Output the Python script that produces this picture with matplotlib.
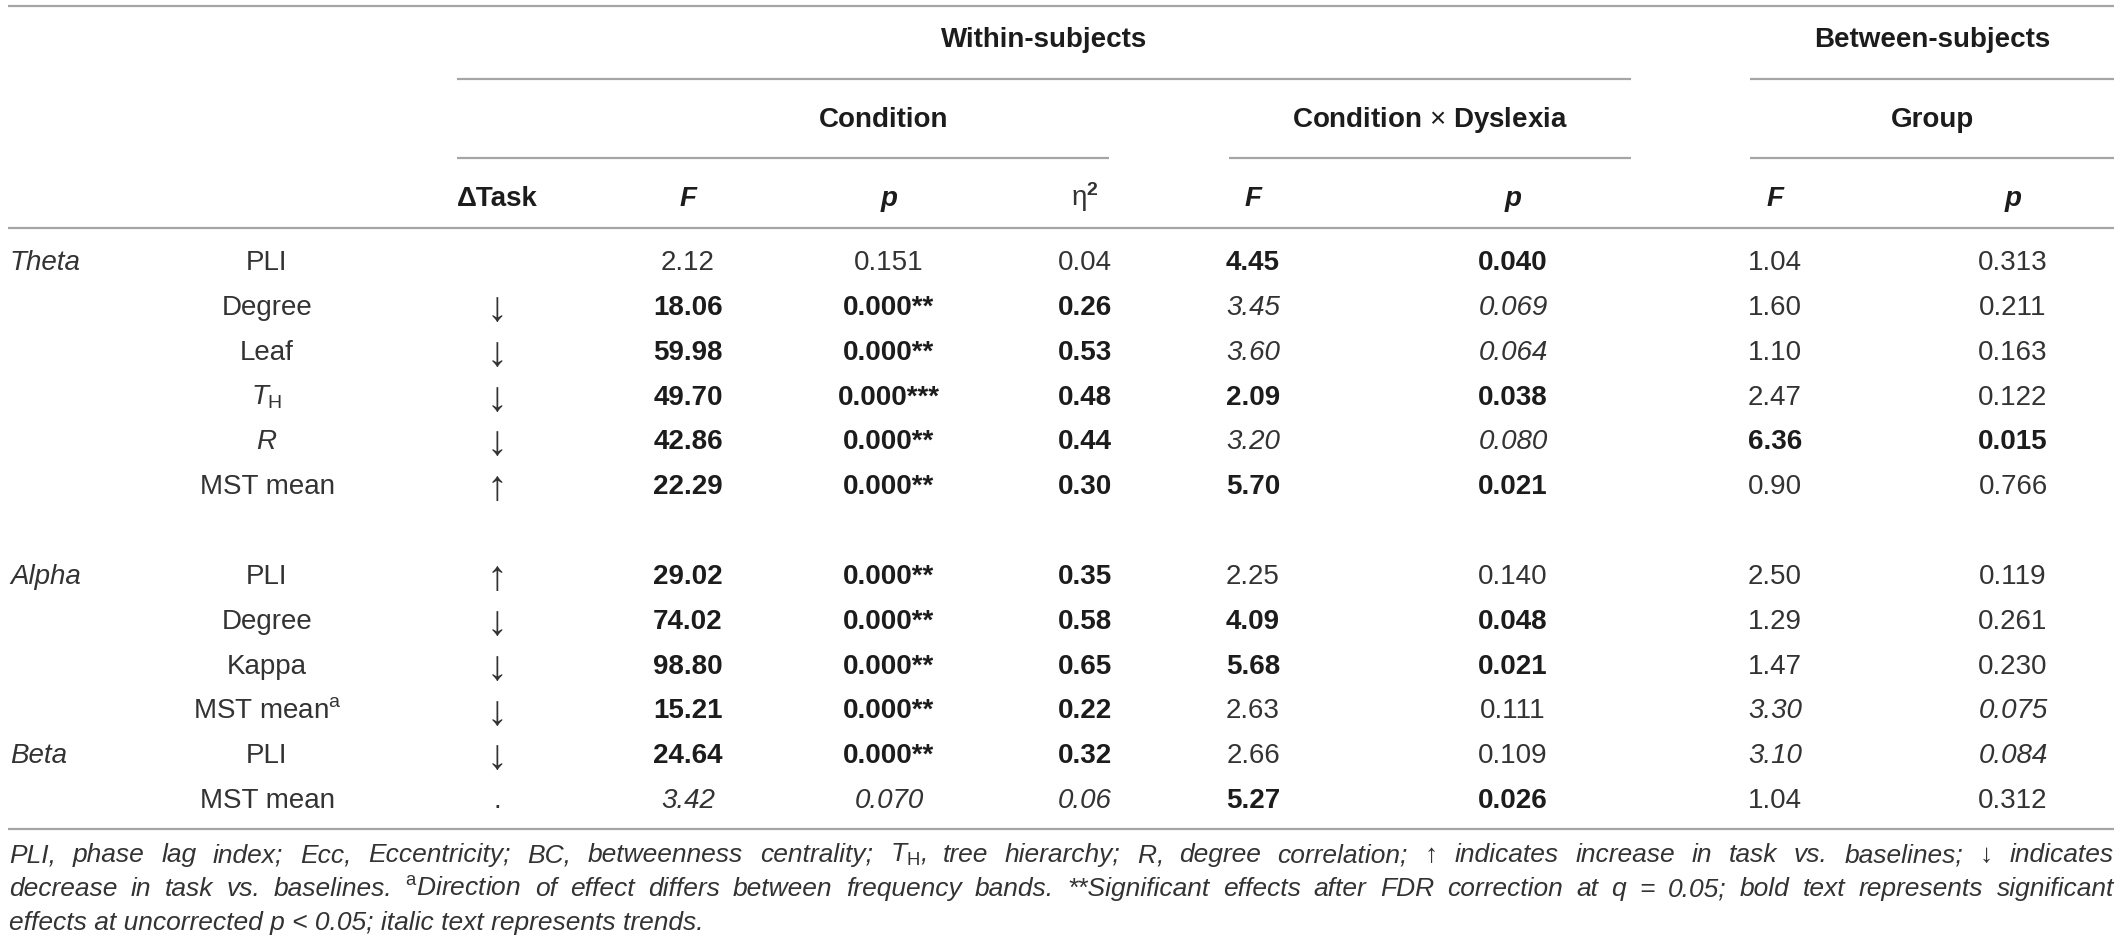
import matplotlib
matplotlib.use('Agg')
import matplotlib.pyplot as plt

# table content
bands = ['Theta', '', '', '', '', '', 'Alpha', '', '', '', 'Beta', '']
measures = ['PLI', 'Degree', 'Leaf', r'$T_{\mathrm{H}}$', r'$R$', 'MST mean',
            'PLI', 'Degree', 'Kappa', r'MST mean$^{\mathrm{a}}$', 'PLI', 'MST mean']
task_dir = ['', '↓', '↓', '↓', '↓', '↑', '↑', '↓', '↓', '↓', '↓', '.']
cond_F = ['2.12', '18.06', '59.98', '49.70', '42.86', '22.29',
          '29.02', '74.02', '98.80', '15.21', '24.64', '3.42']
cond_p = ['0.151', '0.000**', '0.000**', '0.000***', '0.000**', '0.000**',
          '0.000**', '0.000**', '0.000**', '0.000**', '0.000**', '0.070']
cond_eta = ['0.04', '0.26', '0.53', '0.48', '0.44', '0.30',
            '0.35', '0.58', '0.65', '0.22', '0.32', '0.06']
cxd_F = ['4.45', '3.45', '3.60', '2.09', '3.20', '5.70',
         '2.25', '4.09', '5.68', '2.63', '2.66', '5.27']
cxd_p = ['0.040', '0.069', '0.064', '0.038', '0.080', '0.021',
         '0.140', '0.048', '0.021', '0.111', '0.109', '0.026']
grp_F = ['1.04', '1.60', '1.10', '2.47', '6.36', '0.90',
         '2.50', '1.29', '1.47', '3.30', '3.10', '1.04']
grp_p = ['0.313', '0.211', '0.163', '0.122', '0.015', '0.766',
         '0.119', '0.261', '0.230', '0.075', '0.084', '0.312']

# n = normal, b = bold, i = italic
cond_style = ['n', 'b', 'b', 'b', 'b', 'b', 'b', 'b', 'b', 'b', 'b', 'i']
cxd_style = ['b', 'i', 'i', 'b', 'i', 'b', 'n', 'b', 'b', 'n', 'n', 'b']
grp_style = ['n', 'n', 'n', 'n', 'b', 'n', 'n', 'n', 'n', 'i', 'i', 'n']

foot1 = ['PLI,', 'phase', 'lag', 'index;', 'Ecc,', 'Eccentricity;', 'BC,', 'betweenness',
         'centrality;', r'$T_{\mathrm{H}}$,', 'tree', 'hierarchy;', r'$R$,', 'degree',
         'correlation;', '↑', 'indicates', 'increase', 'in', 'task', 'vs.', 'baselines;',
         '↓', 'indicates']
foot2 = ['decrease', 'in', 'task', 'vs.', 'baselines.', r'${}^{\mathrm{a}}$Direction', 'of',
         'effect', 'differs', 'between', 'frequency', 'bands.', '**Significant', 'effects',
         'after', 'FDR', 'correction', 'at', 'q', '=', '0.05;', 'bold', 'text', 'represents',
         'significant']
foot3 = 'effects at uncorrected p < 0.05; italic text represents trends.'

plt.rcParams['font.family'] = ['Liberation Sans', 'DejaVu Sans']
plt.rcParams['mathtext.fontset'] = 'custom'
plt.rcParams['mathtext.rm'] = 'Liberation Sans'
plt.rcParams['mathtext.it'] = 'Liberation Sans:italic'
plt.rcParams['mathtext.bf'] = 'Liberation Sans:bold'

TXT = '#333333'
BOLD = '#1c1c1c'
LINE = '#a5a5a5'
FS = 20

fig = plt.figure(figsize=(21.2, 9.5), dpi=100)
ax = fig.add_axes([0, 0, 1, 1])
ax.set_xlim(0, 2120)
ax.set_ylim(950, 0)
ax.axis('off')


def put(x, y, s, style='n', ha='center', size=FS):
    ax.text(x, y, s, ha=ha, va='baseline', fontsize=size,
            fontweight='bold' if style == 'b' else 'normal',
            fontstyle='italic' if style == 'i' else 'normal',
            color=BOLD if style == 'b' else TXT)


def hline(x0, x1, y):
    ax.plot([x0, x1], [y, y], color=LINE, lw=1.6, solid_capstyle='butt')


# rules
hline(8, 2114, 6)
hline(457, 1631, 79)
hline(1750, 2114, 79)
hline(457, 1109, 158)
hline(1229, 1631, 158)
hline(1750, 2114, 158)
hline(8, 2114, 228)
hline(8, 2114, 829)

# headers
put(1044, 47, 'Within-subjects', 'b')
put(1932, 47, 'Between-subjects', 'b')
put(884, 127, 'Condition', 'b')
put(1430, 127, r'Condition $\times$ Dyslexia', 'b')
put(1932, 127, 'Group', 'b')

cols = [497, 688, 889, 1085, 1253, 1513, 1775, 2013]
put(cols[0], 206, 'ΔTask', 'b')
for x, lab in zip(cols[1:], ['F', 'p', None, 'F', 'p', 'F', 'p']):
    if lab is None:
        ax.text(x, 206, r'η$^{\mathbf{2}}$', ha='center', va='baseline',
                fontsize=FS, color=TXT)
    else:
        ax.text(x, 206, lab, ha='center', va='baseline', fontsize=FS,
                fontweight='bold', fontstyle='italic', color=BOLD)

# body
for i in range(len(measures)):
    slot = i + (1 if i >= 6 else 0)
    yb = 270 + 44.85 * slot
    if bands[i]:
        put(10, yb, bands[i], 'i', ha='left')
    put(267, yb, measures[i])
    if task_dir[i] in ('↑', '↓'):
        ax.text(cols[0], yb + 6, task_dir[i], ha='center', va='baseline',
                fontsize=30, color=TXT)
    else:
        put(cols[0], yb, task_dir[i])
    put(cols[1], yb, cond_F[i], cond_style[i])
    put(cols[2], yb, cond_p[i], cond_style[i])
    put(cols[3], yb, cond_eta[i], cond_style[i])
    put(cols[4], yb, cxd_F[i], cxd_style[i])
    put(cols[5], yb, cxd_p[i], cxd_style[i])
    put(cols[6], yb, grp_F[i], grp_style[i])
    put(cols[7], yb, grp_p[i], grp_style[i])

# footnote, justified like the journal layout
FFS = 19
renderer = fig.canvas.get_renderer()


def justified(words, y, x0=9, x1=2114):
    arts = [ax.text(0, y, w, ha='left', va='baseline', fontsize=FFS,
                    fontstyle='italic', color=TXT) for w in words]
    widths = [a.get_window_extent(renderer).width for a in arts]
    gap = max((x1 - x0 - sum(widths)) / (len(words) - 1), 3)
    x = x0
    for a, w in zip(arts, widths):
        a.set_x(x)
        x += w + gap


justified(foot1, 862)
justified(foot2, 896)
ax.text(9, 930, foot3, ha='left', va='baseline', fontsize=FFS,
        fontstyle='italic', color=TXT)

fig.savefig('out.png', dpi=100)
